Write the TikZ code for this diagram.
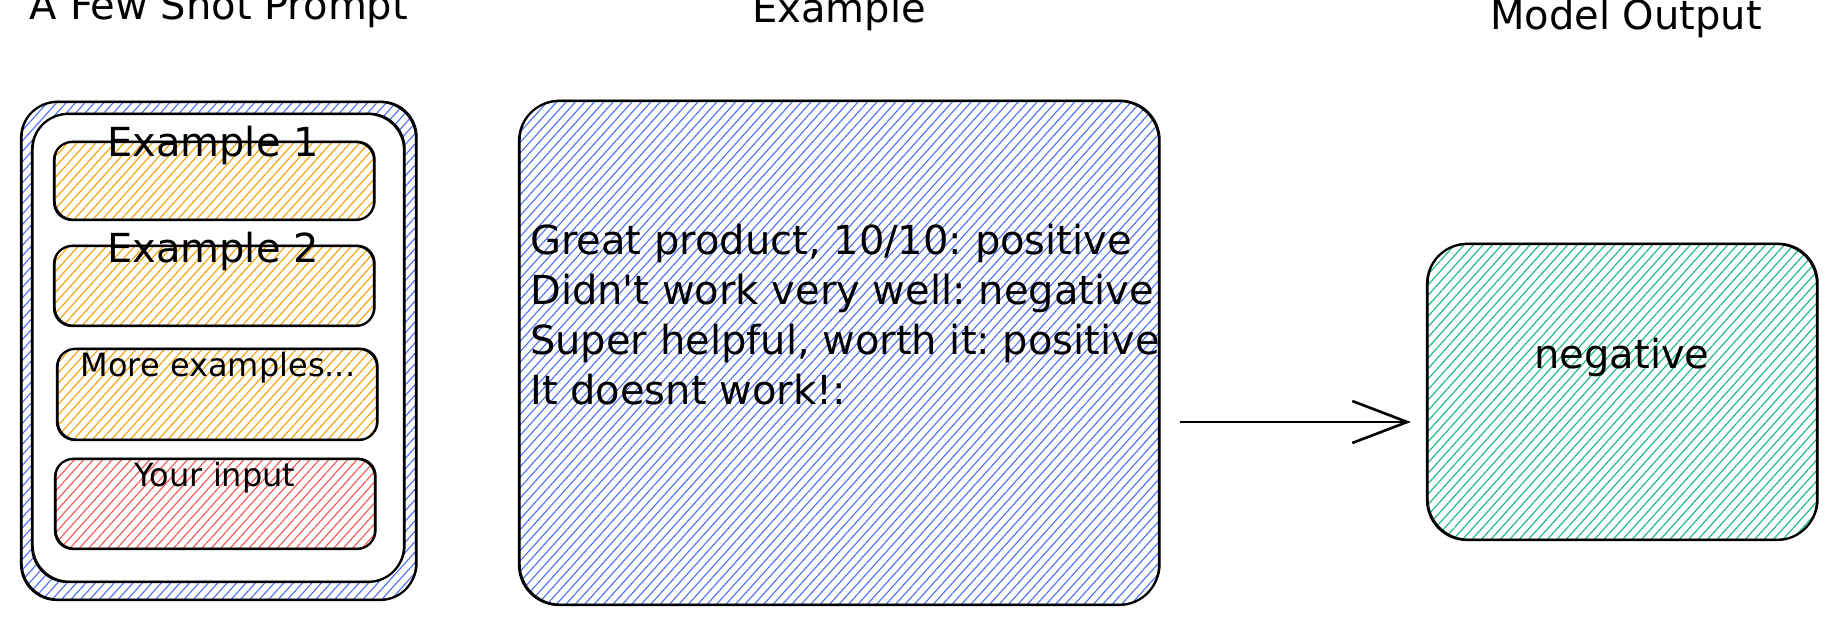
\documentclass[tikz,border=0pt]{standalone}
\usepackage{fontspec}
\setmainfont{DejaVu Sans}
\frenchspacing
\usetikzlibrary{patterns.meta,arrows.meta}
\definecolor{hblue}{HTML}{4C6EF5}
\definecolor{horange}{HTML}{F59F00}
\definecolor{hred}{HTML}{FA5252}
\definecolor{hgreen}{HTML}{12B886}
\tikzset{
  box/.style={draw=black, line width=2.2pt, rounded corners=#1, inner sep=0pt,
    postaction={draw=black, line width=1pt, transform canvas={xshift=1.2pt, yshift=0.9pt}}},
  hatch/.style={pattern={Lines[angle=48,distance=7pt,line width=1.1pt]}, pattern color=#1},
  ttl/.style={font=\fontsize{40}{50}\selectfont, inner sep=0pt, anchor=base},
  sm/.style={font=\fontsize{32}{40}\selectfont, inner sep=0pt, anchor=base},
  arr/.style={line width=2.6pt, -{Straight Barb[length=55pt,width=42pt,line width=2.6pt]}},
}
\begin{document}
\begin{tikzpicture}[x=1pt,y=-1pt]
\useasboundingbox[fill=white] (0,0) rectangle (1836,626);
% titles
\node[ttl] (t1) at (219,20) {A Few Shot Prompt};
\node[ttl] (t2) at (839,23) {Example};
\node[ttl] (t3) at (1626,30) {Model Output};
% few shot prompt
\node[box=36pt, hatch=hblue, minimum width=395pt, minimum height=498pt] (outer) at (218.5,351) {};
\node[box=36pt, fill=white, minimum width=372pt, minimum height=468pt] (inner) at (218,348) {};
\node[box=18pt, hatch=horange, minimum width=320pt, minimum height=78pt] (ex1) at (214,181) {};
\node[box=18pt, hatch=horange, minimum width=320pt, minimum height=80pt] (ex2) at (214,286) {};
\node[box=18pt, hatch=horange, minimum width=320pt, minimum height=91pt] (more) at (217,394.5) {};
\node[box=18pt, hatch=hred, minimum width=320pt, minimum height=90pt] (input) at (215,504) {};
\node[ttl] (ex1t) at (213,156) {Example 1};
\node[ttl] (ex2t) at (213,262) {Example 2};
\node[sm] (moret) at (218,376) {More examples...};
\node[sm] (inputt) at (215,486) {Your input};
% example
\node[box=40pt, hatch=hblue, minimum width=640pt, minimum height=504pt] (ex) at (839,353) {};
\node[ttl, anchor=base west] (l1) at (530,254) {Great product, 10/10: positive};
\node[ttl, anchor=base west] (l2) at (530,304) {Didn\textquotesingle t work very well: negative};
\node[ttl, anchor=base west] (l3) at (530,354) {Super helpful, worth it: positive};
\node[ttl, anchor=base west] (l4) at (530,404) {It doesnt work!:};
% output
\node[box=40pt, hatch=hgreen, minimum width=390pt, minimum height=296pt] (out) at (1622,392) {};
\node[ttl] (outt) at (1622,368) {negative};
% arrow
\coordinate (a1) at (1180,422);
\draw[arr, shorten >=15pt] (a1) -- (a1 -| out.west);
\end{tikzpicture}
\end{document}
